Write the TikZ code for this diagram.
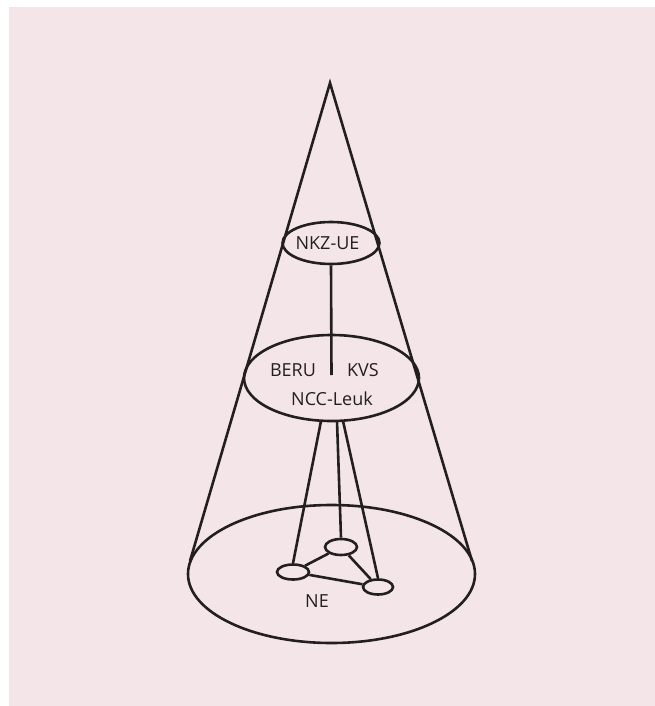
\documentclass[tikz,border=0pt]{standalone}
\usepackage{fontspec}
\setmainfont{Open Sans}
\usetikzlibrary{shapes.geometric}
\definecolor{paper}{HTML}{F4E6E8}
\definecolor{ink}{HTML}{231F20}
\tikzset{
  ring/.style={draw=ink, ellipse, line width=2.6pt, inner sep=0pt},
  lbl/.style={font=\fontsize{18}{21}\selectfont, text=ink, inner sep=0pt},
  link/.style={draw=ink, line width=2.6pt}
}
\begin{document}
\begin{tikzpicture}[x=1pt, y=-1pt]
            % Hintergrund
            \useasboundingbox (0,0) rectangle (655,706);
            \fill[white](0,0)rectangle(655,706);
            \fill[paper](9,7)rectangle(655,706);
            % Kegel
            \coordinate(apex)at(330,83);
            \node[ring, minimum width=287, minimum height=138](ne)at(331.5,574){};
            \node[ring, minimum width=97, minimum height=42](nkz)at(331,243){};
            \node[ring, minimum width=175, minimum height=86](ncc)at(331.5,378){};
            \coordinate(fl)at(190,561);
            \coordinate(fr)at(472,561);
            \draw[link, line join=miter](fl)--(apex)--(fr);
            % Texte
            \node[lbl](nkzt)at(327.5,243){NKZ-UE};
            \node[lbl](beru)at(293,370){BERU};
            \node[lbl](kvs)at(363,370){KVS};
            \node[lbl](nccl)at(332,399){NCC-Leuk};
            \node[lbl](net)at(317,601){NE};
            % Verbindung NKZ-UE -> NCC
            \coordinate(split)at(331.5,375);
            \draw[link](nkz.south)--(split);
            % kleine Knoten
            \node[ring, minimum width=32, minimum height=15](k1)at(293,572){};
            \node[ring, minimum width=32, minimum height=16](k2)at(341,547){};
            \node[ring, minimum width=30, minimum height=15](k3)at(378,587){};
            \draw[link](k1)--(k2);
            \draw[link](k2)--(k3);
            \draw[link](k1)--(k3);
            % Verbindungen NCC -> NE
            \coordinate(o1)at(321,421);
            \coordinate(o2)at(337,421);
            \coordinate(o3)at(343,421);
            \draw[link](o1)--(k1.north);
            \draw[link](o2)--(k2.north);
            \draw[link](o3)--(k3.north);
        \end{tikzpicture}
\end{document}
